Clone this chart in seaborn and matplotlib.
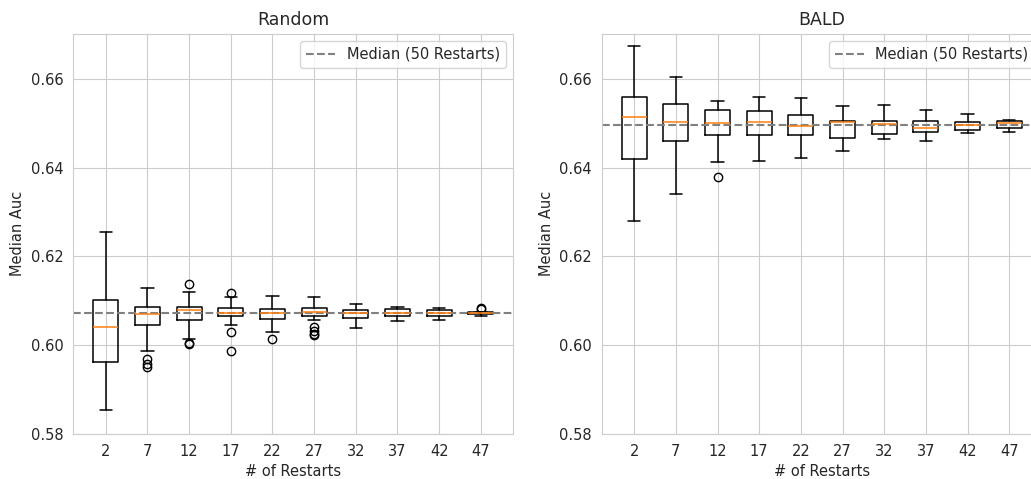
import matplotlib
matplotlib.use("Agg")
import matplotlib.pyplot as plt
import seaborn as sns

sns.set_style("whitegrid")
plt.rcParams["font.size"] = 10.5

restarts = [2, 7, 12, 17, 22, 27, 32, 37, 42, 47]

# Random acquisition
random_whislo = [0.5855, 0.5987, 0.6014, 0.6045, 0.6030, 0.6056, 0.6038, 0.6055, 0.6058, 0.6065]
random_q1 = [0.5962, 0.6045, 0.6058, 0.6065, 0.6060, 0.6065, 0.6062, 0.6065, 0.6067, 0.6070]
random_med = [0.6041, 0.6070, 0.6079, 0.6073, 0.6073, 0.6075, 0.6073, 0.6073, 0.6072, 0.6072]
random_q3 = [0.6102, 0.6086, 0.6086, 0.6083, 0.6082, 0.6083, 0.6079, 0.6081, 0.6079, 0.6074]
random_whishi = [0.6255, 0.6128, 0.6121, 0.6109, 0.6112, 0.6109, 0.6094, 0.6087, 0.6083, 0.6076]
random_fliers = [[], [0.5968, 0.5957, 0.5952], [0.6138, 0.6004, 0.6002],
                 [0.6118, 0.6030, 0.5987], [0.6015], [0.6040, 0.6032, 0.6026, 0.6022],
                 [], [], [], [0.6081, 0.6083]]
random_ref = 0.6072

# BALD acquisition
bald_whislo = [0.6279, 0.6340, 0.6414, 0.6416, 0.6422, 0.6438, 0.6464, 0.6461, 0.6479, 0.6481]
bald_q1 = [0.6419, 0.6461, 0.6473, 0.6473, 0.6473, 0.6467, 0.6477, 0.6481, 0.6485, 0.6490]
bald_med = [0.6515, 0.6502, 0.6501, 0.6503, 0.6494, 0.6502, 0.6498, 0.6489, 0.6497, 0.6501]
bald_q3 = [0.6560, 0.6543, 0.6529, 0.6527, 0.6518, 0.6506, 0.6506, 0.6506, 0.6503, 0.6506]
bald_whishi = [0.6675, 0.6604, 0.6551, 0.6560, 0.6557, 0.6538, 0.6541, 0.6529, 0.6520, 0.6508]
bald_fliers = [[], [], [0.6378], [], [], [], [], [], [], []]
bald_ref = 0.6497


def make_stats(lo, q1, med, q3, hi, fliers):
    return [dict(whislo=a, q1=b, med=c, q3=d, whishi=e, fliers=f)
            for a, b, c, d, e, f in zip(lo, q1, med, q3, hi, fliers)]


fig = plt.figure(figsize=(10.31, 4.79), dpi=100)
ax1 = fig.add_axes([73.3 / 1031, 45 / 479, 440 / 1031, 400.3 / 479])
ax2 = fig.add_axes([601.7 / 1031, 45 / 479, 440 / 1031, 400.3 / 479])

panels = [
    (ax1, "Random", make_stats(random_whislo, random_q1, random_med, random_q3,
                               random_whishi, random_fliers), random_ref),
    (ax2, "BALD", make_stats(bald_whislo, bald_q1, bald_med, bald_q3,
                             bald_whishi, bald_fliers), bald_ref),
]

for ax, title, stats, ref in panels:
    ax.bxp(stats, positions=range(1, len(restarts) + 1), widths=0.6,
           boxprops=dict(linewidth=1.1), whiskerprops=dict(linewidth=1.1),
           capprops=dict(linewidth=1.1),
           medianprops=dict(color="C1", linewidth=1.1),
           flierprops=dict(marker="o", markerfacecolor="none", markeredgecolor="black"))
    ax.axhline(ref, color="gray", linestyle="--", linewidth=1.5, label="Median (50 Restarts)")
    ax.set_xticks(range(1, len(restarts) + 1))
    ax.set_xticklabels([str(r) for r in restarts])
    ax.set_xlim(0.22, 10.78)
    ax.set_ylim(0.58, 0.6702)
    ax.set_yticks([0.58, 0.60, 0.62, 0.64, 0.66])
    ax.set_title(title, fontsize=12.5)
    ax.set_xlabel("# of Restarts")
    ax.set_ylabel("Median Auc")
    ax.legend(loc="upper right")

fig.savefig("out.png", dpi=100)
